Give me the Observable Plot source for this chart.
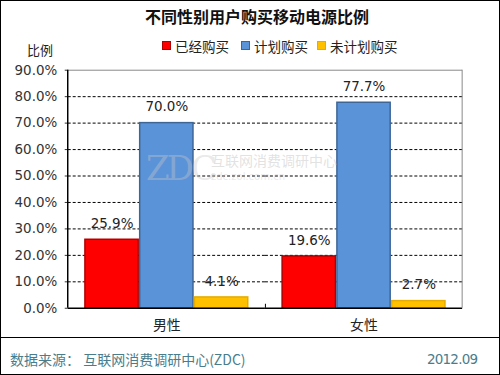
<!DOCTYPE html>
<html><head><meta charset="utf-8">
<script src="https://cdn.jsdelivr.net/npm/d3@7"></script>
<script src="https://cdn.jsdelivr.net/npm/@observablehq/plot@0.6"></script>
<style>
body{margin:0;background:#fff;}
#wrap{position:relative;width:498px;height:373px;border:1px solid #000;overflow:hidden;font-family:"DejaVu Sans","Noto Sans CJK SC",sans-serif;}
#wrap svg{position:absolute;left:-1px;top:-1px;}
.t{position:absolute;white-space:nowrap;}
#title{left:0;width:512px;text-align:center;top:3px;font-size:16px;font-weight:bold;font-family:"Noto Sans CJK SC",sans-serif;color:#111;}
#ylab{left:26px;top:39px;font-size:13px;font-family:"Noto Sans CJK SC",sans-serif;color:#222;}
.lg{top:35px;font-size:13.5px;font-family:"Noto Sans CJK SC",sans-serif;color:#222;}
.lg span.sw{display:inline-block;width:7px;height:7px;margin-right:4px;vertical-align:2px;}
#foot{left:-1px;top:336px;width:500px;border-top:1.5px solid #000;}
#src{left:9px;top:348px;font-size:14px;color:#4a7d8c;font-family:"Noto Sans CJK SC",sans-serif;}
#date{left:426px;top:350px;font-size:13.5px;color:#4a7d8c;font-family:"DejaVu Sans",sans-serif;letter-spacing:-0.8px;}
.wm{line-height:1;}
#wm1{left:145px;top:150px;color:rgba(200,200,200,0.4);font-size:34px;font-family:"DejaVu Serif",serif;letter-spacing:-3px;}
#wm2{left:210px;top:152px;color:rgba(190,190,190,0.45);font-size:14px;font-family:"Noto Sans CJK SC",sans-serif;}
#wm3{left:210px;top:171px;color:rgba(200,200,200,0.4);font-size:10px;}
</style></head>
<body><div id="wrap"></div>
<script>
const categories = ["男性", "女性"];
const seriesNames = ["已经购买", "计划购买", "未计划购买"];
const seriesColors = ["#ff0000", "#5b93d9", "#ffc000"];
const seriesStroke = ["#b00000", "#3d6696", "#e6ac00"];
const valuesBought = [25.9, 19.6];
const valuesPlanned = [70.0, 77.7];
const valuesNotPlanned = [4.1, 2.7];
const yTicks = [0, 10, 20, 30, 40, 50, 60, 70, 80, 90];
const title = "不同性别用户购买移动电源比例";
const source = "数据来源： 互联网消费调研中心(ZDC)";
const date = "2012.09";

const allVals = [valuesBought, valuesPlanned, valuesNotPlanned];
const data = [];
categories.forEach((c, i) => seriesNames.forEach((s, j) => data.push({gender: c, series: s, value: allVals[j][i]})));

const wrap = document.getElementById("wrap");
const chart = Plot.plot({
  width: 500, height: 375,
  marginLeft: 68, marginRight: 36, marginTop: 70, marginBottom: 66,
  style: {fontFamily: "DejaVu Sans, sans-serif", fontSize: "13px", color: "#333", background: "transparent"},
  fx: {domain: categories, paddingInner: 0, paddingOuter: 0, label: null, axis: null, round: false},
  x: {domain: seriesNames, paddingInner: 0, paddingOuter: 0.3, axis: null, round: false},
  y: {domain: [0, 90], label: null},
  color: {domain: seriesNames, range: seriesColors},
  marks: [
    Plot.ruleY(yTicks.filter(d => d > 0 && d < 90), {stroke: "#000", strokeDasharray: "3,2", strokeWidth: 1}),
    Plot.ruleY([90], {stroke: "#888", strokeWidth: 1}),
    Plot.barY(data, {fx: "gender", x: "series", y: "value", fill: "series",
      stroke: d => seriesStroke[seriesNames.indexOf(d.series)], strokeWidth: 1.5, insetLeft: 0.75, insetRight: 0.75}),
    Plot.text(data, {fx: "gender", x: "series", y: "value", text: d => d.value.toFixed(1) + "%", dy: -16, fill: "#222", fontSize: 13.5}),
    Plot.axisY({ticks: yTicks, tickFormat: d => d.toFixed(1) + "%", tickSize: 3, tickPadding: 8, label: null, fill: "#333", fontSize: 13.5}),
    Plot.ruleY([0], {stroke: "#000", strokeWidth: 1.5}),
    Plot.axisFx({anchor: "bottom", label: null, tickSize: 0, tickPadding: 12, fontFamily: "Noto Sans CJK SC", fontSize: 14, fill: "#222"})
  ]
});
wrap.appendChild(chart);

const ySc = chart.scale("y");
const svg = d3.select(chart);
svg.append("line").attr("x1", 68).attr("x2", 68).attr("y1", ySc.apply(90)).attr("y2", ySc.apply(0)).attr("stroke", "#000").attr("stroke-width", 1.5);
svg.append("line").attr("x1", 464).attr("x2", 464).attr("y1", ySc.apply(90)).attr("y2", ySc.apply(0)).attr("stroke", "#888");
svg.append("line").attr("x1", 266.5).attr("x2", 266.5).attr("y1", ySc.apply(0) - 4).attr("y2", ySc.apply(0)).attr("stroke", "#000");

function addText(id, txt, cls) { const d = document.createElement("div"); d.className = "t" + (cls ? " " + cls : ""); if (id) d.id = id; d.textContent = txt; wrap.appendChild(d); return d; }
addText("wm1", "ZDC", "wm");
addText("wm2", "互联网消费调研中心", "wm");
addText("wm3", "zdc.zol.com.cn", "wm");
addText("title", title);
addText("ylab", "比例");
const legendX = [161, 240, 316];
seriesNames.forEach((s, i) => {
  const d = addText(null, "", "lg");
  d.style.left = legendX[i] + "px";
  d.innerHTML = `<span class="sw" style="background:${seriesColors[i]};border:0.5px solid ${seriesStroke[i]}"></span>${s}`;
});
addText("foot", "");
addText("src", source);
addText("date", date);
</script></body></html>
